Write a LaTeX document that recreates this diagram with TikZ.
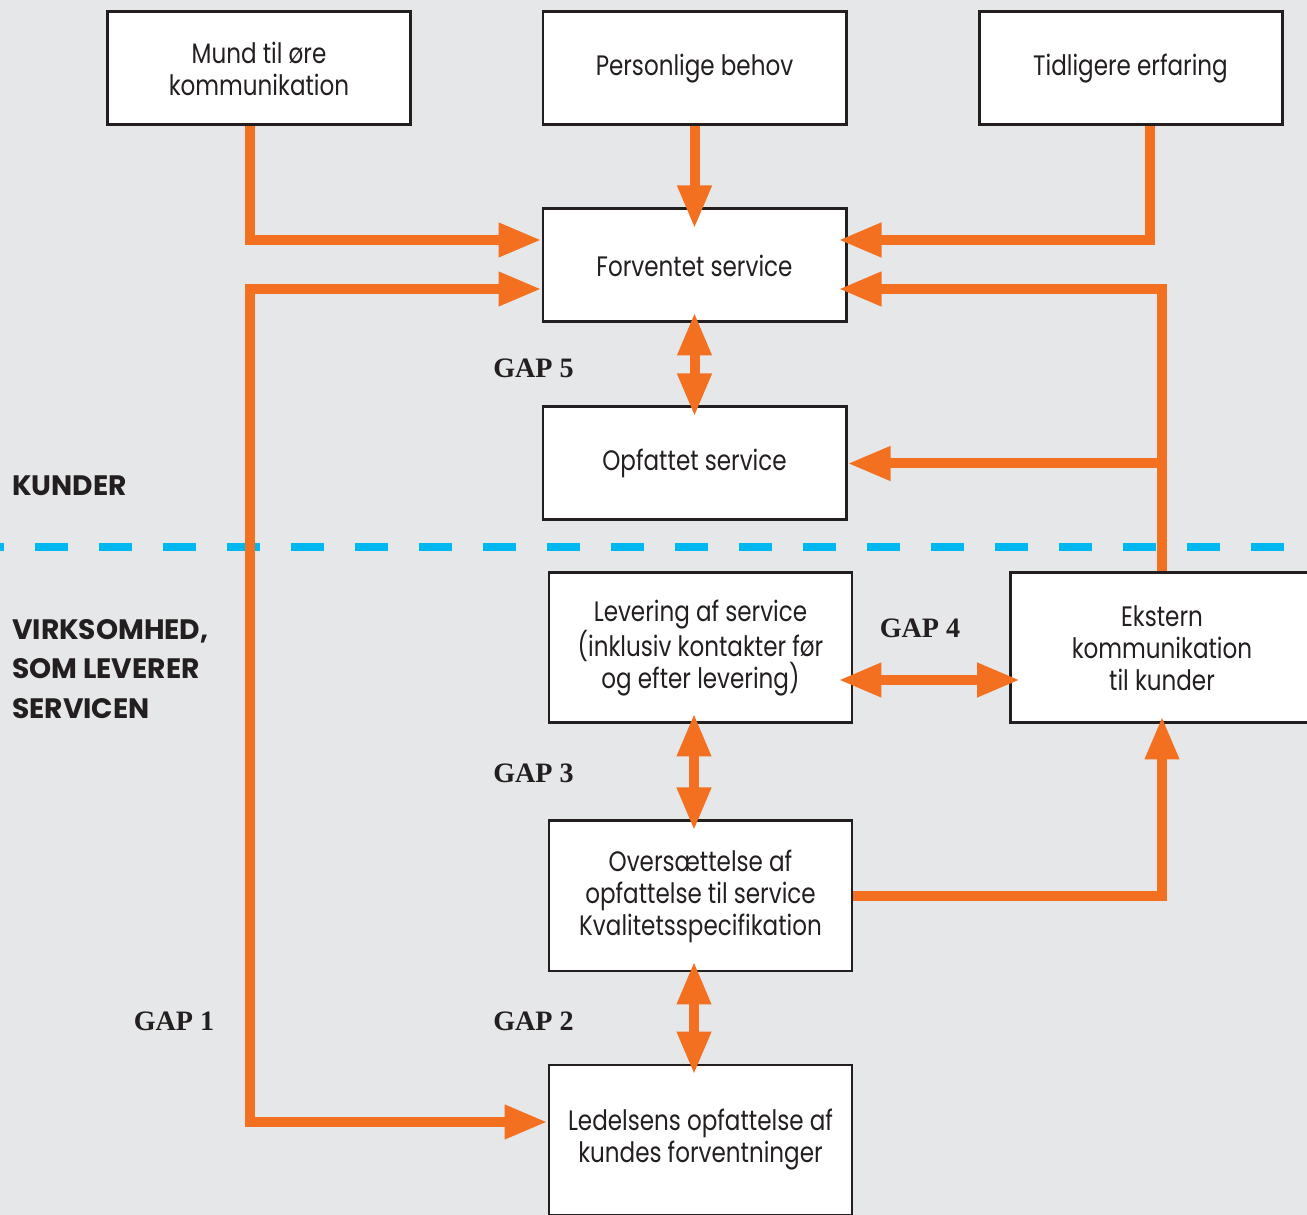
\documentclass[tikz,border=0pt]{standalone}
\usepackage{fontspec}
\setmainfont{Poppins}
\newfontfamily\boxfont[FakeStretch=0.82]{Poppins}
\newfontfamily\gapfont{Liberation Serif}
\usetikzlibrary{arrows.meta, positioning, calc}

\definecolor{bggray}{HTML}{E6E7E8}
\definecolor{flowor}{HTML}{F37021}
\definecolor{splitcyan}{HTML}{00B7F0}
\definecolor{inkgray}{HTML}{231F20}

\begin{document}
\begin{tikzpicture}[
    box/.style={draw=inkgray, line width=1.7pt, fill=white, text=inkgray,
        minimum width=6.06cm, minimum height=2.26cm, inner sep=0pt,
        align=center, font=\boxfont\fontsize{16}{18.2}\selectfont},
    tallbox/.style={box, minimum height=3cm},
    flow/.style={draw=flowor, line width=0.2cm,
        -{Triangle[length=0.86cm, width=0.64cm]}},
    twoway/.style={flow, {Triangle[length=0.86cm, width=0.64cm]}-{Triangle[length=0.86cm, width=0.64cm]},
        shorten <=-0.22cm, shorten >=-0.22cm},
    gaplabel/.style={text=inkgray, font=\gapfont\bfseries\fontsize{16}{18}\selectfont},
    side/.style={text=inkgray, anchor=west, align=left,
        font=\bfseries\fontsize{16}{22.4}\selectfont}
]
    \useasboundingbox (0,0) rectangle (26.14,24.3);
    \fill[bggray] (0,0) rectangle (26.14,24.3);

    % Customer / company boundary
    \draw[splitcyan, line width=0.16cm, dash pattern=on 0.66cm off 0.62cm, dash phase=0.58cm]
        (0,13.36) -- (26.14,13.36);

    % Boxes on the customer side
    \node[box] (mund) at (5.18,22.93) {Mund til øre\\kommunikation};
    \node[box] (behov) at (13.89,22.93) {Personlige behov};
    \node[box] (erfaring) at (22.61,22.93) {Tidligere erfaring};
    \node[box] (forventet) at (13.89,18.99) {Forventet service};
    \node[box] (opfattet) at (13.89,15.03) {Opfattet service};

    % Boxes on the company side
    \node[tallbox] (levering) at (14.01,11.34) {Levering af service\\(inklusiv kontakter før\\og efter levering)};
    \node[tallbox] (ekstern) at (23.24,11.34) {Ekstern\\kommunikation\\til kunder};
    \node[tallbox] (oversaet) at (14.01,6.38) {Oversættelse af\\opfattelse til service\\Kvalitetsspecifikation};
    \node[tallbox] (ledelse) at (14.01,1.5) {Ledelsens opfattelse af\\kundes forventninger};

    % Side labels
    \node[side] (kunder) at (0.12,14.58) {KUNDER};
    \node[side] (virksomhed) at (0.12,10.92) {VIRKSOMHED,\\SOM LEVERER\\SERVICEN};

    % Gap labels
    \node[gaplabel] (gap5) at (10.67,16.94) {GAP 5};
    \node[gaplabel] (gap4) at (18.4,11.74) {GAP 4};
    \node[gaplabel] (gap3) at (10.67,8.84) {GAP 3};
    \node[gaplabel] (gap1) at (3.48,3.88) {GAP 1};
    \node[gaplabel] (gap2) at (10.67,3.88) {GAP 2};

    % Inputs to expected service
    \draw[flow] ([xshift=-0.18cm]mund.south) |- ([yshift=0.51cm]forventet.west);
    \draw[flow, shorten >=-0.42cm] (behov.south) -- (forventet.north);
    \draw[flow, shorten >=-0.18cm] ([xshift=0.39cm]erfaring.south) |- ([yshift=0.51cm]forventet.east);
    \draw[flow, shorten >=-0.18cm] (ekstern.north) |- ([yshift=-0.47cm]forventet.east);
    \draw[flow] (ekstern.north |- opfattet.east) -- (opfattet.east);
    \draw[flow, shorten >=-0.16cm] (oversaet.east) -| (ekstern.south);

    % Gap 1 runs round the left side
    \coordinate (venstre) at (5.0,10);
    \draw[flow, {Triangle[length=0.86cm, width=0.64cm]}-{Triangle[length=0.86cm, width=0.64cm]}]
        ([yshift=-0.47cm]forventet.west) -| (venstre) |- ([yshift=0.36cm]ledelse.west);

    % Gaps between neighbouring boxes
    \draw[twoway] (forventet.south) -- (opfattet.north);
    \draw[twoway, shorten <=-0.3cm] ([yshift=-0.64cm]levering.east) -- ([yshift=-0.64cm]ekstern.west);
    \draw[twoway] ([xshift=-0.13cm]levering.south) -- ([xshift=-0.13cm]oversaet.north);
    \draw[twoway] ([xshift=-0.13cm]oversaet.south) -- ([xshift=-0.13cm]ledelse.north);
\end{tikzpicture}
\end{document}
